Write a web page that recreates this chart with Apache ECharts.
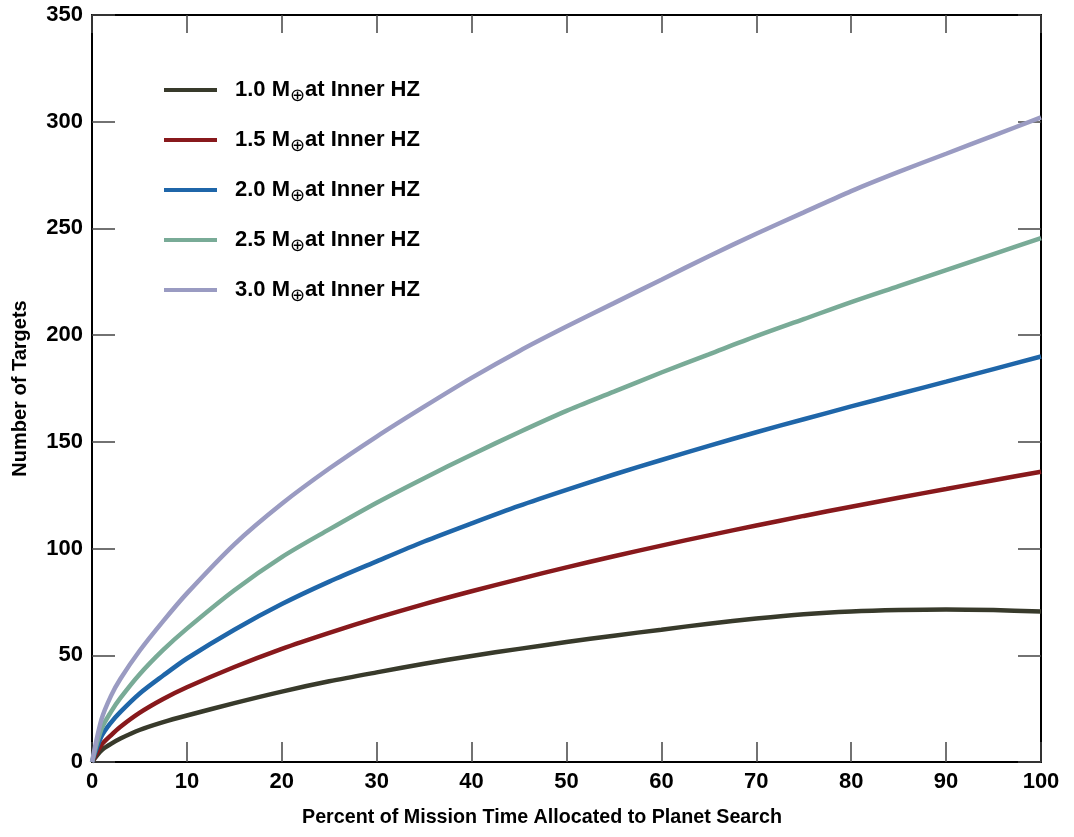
<!DOCTYPE html>
<html>
<head>
<meta charset="utf-8">
<script src="https://cdn.jsdelivr.net/npm/echarts@6/dist/echarts.min.js"></script>
<style>
html,body{margin:0;padding:0;background:#fff;}
#chart{width:1074px;height:837px;}
</style>
</head>
<body>
<div id="chart"></div>
<script>
// ---- data ----
const xValues = [0, 1, 2, 3, 5, 7.5, 10, 15, 20, 25, 30, 35, 40, 45, 50, 55, 60, 65, 70, 75, 80, 85, 90, 95, 100];
const mass10 = [0, 5.5, 8.5, 11, 15, 18.7, 21.8, 27.6, 33, 37.8, 42, 46, 49.7, 53, 56.2, 59.2, 62, 64.8, 67.2, 69.2, 70.5, 71.2, 71.5, 71.2, 70.5];
const mass15 = [0, 8, 12.5, 16.5, 23, 29.5, 35, 44.5, 53, 60.5, 67.5, 74, 80, 85.7, 91.2, 96.4, 101.4, 106.2, 110.8, 115.3, 119.6, 123.8, 127.9, 132, 136];
const mass20 = [0, 12, 18.5, 23.5, 32, 40.5, 48.5, 62, 74, 84.5, 94, 103.3, 111.8, 120, 127.5, 134.7, 141.5, 148.1, 154.5, 160.6, 166.6, 172.4, 178.2, 184.1, 190];
const mass25 = [0, 15.5, 23.5, 30, 41, 52.5, 62.5, 80.5, 96, 109, 121.5, 133, 144, 154.5, 164.5, 173.5, 182.5, 191, 199.5, 207.5, 215.5, 223, 230.5, 238, 245.5];
const mass30 = [0, 20, 31, 39, 52, 66, 79, 102, 121, 137.5, 152.5, 166.5, 180, 192.5, 204, 215, 226, 237, 247.5, 257.5, 267.5, 276.5, 285, 293.5, 302];
const seriesNames = ['1.0 M⊕at Inner HZ', '1.5 M⊕at Inner HZ', '2.0 M⊕at Inner HZ', '2.5 M⊕at Inner HZ', '3.0 M⊕at Inner HZ'];
const seriesValues = [mass10, mass15, mass20, mass25, mass30];
const colors = ['#383a2b', '#88191c', '#1f66a9', '#79ab97', '#9a9bc2'];
const xAxisTitle = 'Percent of Mission Time Allocated to Planet Search';
const yAxisTitle = 'Number of Targets';

const FONT = '"Liberation Sans", Arial, Helvetica, sans-serif';
const chart = echarts.init(document.getElementById('chart'), null, {renderer: 'canvas'});

const series = seriesNames.map((name, k) => ({
  name: name,
  type: 'line',
  data: xValues.map((x, i) => [x, seriesValues[k][i]]),
  smooth: 0.3,
  showSymbol: false,
  symbol: 'none',
  lineStyle: {width: 4.5, color: colors[k]},
  itemStyle: {color: colors[k]},
  xAxisIndex: 0,
  yAxisIndex: 0,
  z: 2 + k
}));

const option = {
  animation: false,
  backgroundColor: '#ffffff',
  grid: {left: 92, right: 33, top: 15, bottom: 75, containLabel: false},
  legend: {
    orient: 'vertical',
    left: 164,
    top: 75,
    padding: 0,
    itemWidth: 53,
    itemHeight: 4,
    itemGap: 20,
    icon: 'rect',
    data: seriesNames,
    formatter: function (name) {
      const parts = name.split('⊕');
      return '{a|' + parts[0] + '}{s|⊕}{a|' + parts[1] + '}';
    },
    textStyle: {
      color: '#000',
      padding: [0, 0, 0, 13],
      rich: {
        a: {fontFamily: FONT, fontWeight: 'bold', fontSize: 22, color: '#000', lineHeight: 24, verticalAlign: 'middle'},
        s: {fontFamily: FONT, fontSize: 18, color: '#000', lineHeight: 24, padding: [12, 0, 0, 0], verticalAlign: 'middle'}
      }
    }
  },
  xAxis: [{
    type: 'value',
    min: 0, max: 100, interval: 10,
    position: 'bottom',
    name: xAxisTitle,
    nameLocation: 'middle',
    nameGap: 46,
    nameTextStyle: {fontFamily: FONT, fontWeight: 'bold', fontSize: 19.7, color: '#000', padding: [0, 49, 0, 0]},
    axisLine: {show: true, onZero: false, lineStyle: {color: '#000', width: 2}},
    axisTick: {show: true, inside: true, length: 20, lineStyle: {color: '#444', width: 1.5}},
    axisLabel: {fontFamily: FONT, fontWeight: 'bold', fontSize: 22, color: '#000', margin: 9},
    splitLine: {show: false}
  }, {
    type: 'value',
    min: 0, max: 100, interval: 10,
    position: 'top',
    axisLine: {show: true, onZero: false, lineStyle: {color: '#000', width: 2}},
    axisTick: {show: true, inside: true, length: 18, lineStyle: {color: '#444', width: 1.5}},
    axisLabel: {show: false},
    splitLine: {show: false}
  }],
  yAxis: [{
    type: 'value',
    min: 0, max: 350, interval: 50,
    position: 'left',
    name: yAxisTitle,
    nameLocation: 'middle',
    nameRotate: 90,
    nameGap: 62,
    nameTextStyle: {fontFamily: FONT, fontWeight: 'bold', fontSize: 20, color: '#000'},
    axisLine: {show: true, onZero: false, lineStyle: {color: '#000', width: 2}},
    axisTick: {show: true, inside: true, length: 23, lineStyle: {color: '#444', width: 1.5}},
    axisLabel: {fontFamily: FONT, fontWeight: 'bold', fontSize: 22, color: '#000', margin: 9},
    splitLine: {show: false}
  }, {
    type: 'value',
    min: 0, max: 350, interval: 50,
    position: 'right',
    axisLine: {show: true, onZero: false, lineStyle: {color: '#000', width: 2}},
    axisTick: {show: true, inside: true, length: 23, lineStyle: {color: '#444', width: 1.5}},
    axisLabel: {show: false},
    splitLine: {show: false}
  }],
  series: series
};
chart.setOption(option);
</script>
</body>
</html>
